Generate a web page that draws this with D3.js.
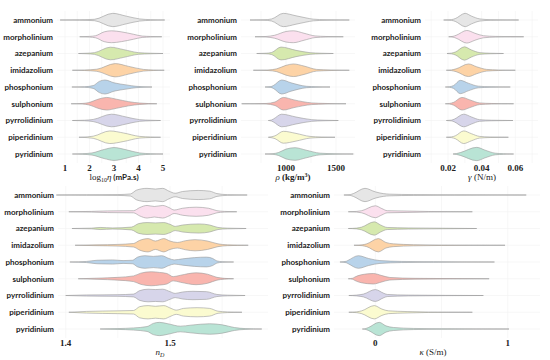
<!DOCTYPE html>
<html><head><meta charset="utf-8">
<script src="https://cdn.jsdelivr.net/npm/d3@7"></script>
<style>body{margin:0;background:#fff}svg{display:block}</style>
</head><body><svg id="c" width="550" height="360"></svg>
<script>
const categories = ["ammonium","morpholinium","azepanium","imidazolium","phosphonium","sulphonium","pyrrolidinium","piperidinium","pyridinium"];
const colors = ["#e6e6e6","#fbe0ee","#d6e9ae","#fdd3a6","#b8d3ea","#f9b5ae","#d7d5ea","#fbfbd0","#b9e4d5"];

// density profiles: [value, relative half-width]
const etaProfiles = [
 [[0.8,0],[1.6,0.03],[2.2,0.1],[2.95,0.95],[3.5,0.55],[4.05,0.15],[4.5,0.05],[5.07,0]],
 [[1.6,0],[2.0,0.05],[2.25,0.15],[2.6,0.7],[2.9,0.85],[3.3,0.7],[3.8,0.35],[4.15,0.1],[4.5,0.04],[4.95,0]],
 [[1.55,0],[1.9,0.04],[2.2,0.12],[2.85,0.9],[3.4,0.55],[4.0,0.12],[4.5,0.04],[5.0,0]],
 [[1.3,0],[1.8,0.04],[2.3,0.15],[3.05,0.95],[3.6,0.55],[4.2,0.12],[4.6,0.04],[5.05,0]],
 [[1.28,0],[1.8,0.04],[2.15,0.2],[2.4,0.8],[2.63,1.0],[3.0,0.6],[3.5,0.3],[3.9,0.1],[4.55,0]],
 [[1.25,0],[1.7,0.04],[1.95,0.15],[2.4,0.7],[2.7,0.9],[3.1,0.65],[3.6,0.3],[4.05,0.1],[4.75,0]],
 [[1.3,0],[1.8,0.04],[2.15,0.15],[2.9,0.9],[3.5,0.5],[4.05,0.12],[4.5,0.04],[4.9,0]],
 [[1.57,0],[1.9,0.05],[2.15,0.15],[2.83,0.9],[3.4,0.6],[4.05,0.12],[4.5,0.04],[4.9,0]],
 [[1.3,0],[1.7,0.04],[2.1,0.15],[2.6,0.65],[3.0,0.92],[3.5,0.6],[4.05,0.15],[4.5,0.04],[5.0,0]]
];
const rhoProfiles = [
 [[640,0],[780,0.03],[857,0.15],[973,0.95],[1100,0.6],[1200,0.3],[1273,0.12],[1400,0.04],[1633,0]],
 [[690,0],[800,0.04],[883,0.2],[1000,0.75],[1073,0.85],[1180,0.5],[1290,0.12],[1400,0.04],[1573,0]],
 [[707,0],[800,0.04],[857,0.15],[950,0.92],[1100,0.45],[1240,0.12],[1350,0.04],[1473,0]],
 [[673,0],[820,0.04],[907,0.2],[1000,0.7],[1073,0.9],[1180,0.6],[1307,0.12],[1450,0.04],[1633,0]],
 [[790,0],[850,0.06],[873,0.2],[957,1.0],[1050,0.6],[1207,0.1],[1300,0.04],[1440,0]],
 [[557,0],[800,0.04],[890,0.25],[973,0.9],[1080,0.55],[1257,0.12],[1400,0.04],[1600,0]],
 [[823,0],[855,0.08],[873,0.2],[957,0.9],[1100,0.5],[1257,0.12],[1380,0.04],[1523,0]],
 [[823,0],[860,0.08],[890,0.2],[973,0.85],[1100,0.55],[1240,0.12],[1350,0.04],[1490,0]],
 [[790,0],[870,0.05],[923,0.2],[1000,0.7],[1090,0.9],[1200,0.55],[1340,0.12],[1480,0.04],[1673,0]]
];
const gammaProfiles = [
 [[0.0174,0],[0.022,0.05],[0.0243,0.2],[0.0302,0.95],[0.034,0.55],[0.039,0.15],[0.045,0.05],[0.062,0]],
 [[0.0204,0],[0.023,0.06],[0.0248,0.2],[0.0312,0.9],[0.036,0.5],[0.041,0.15],[0.048,0.05],[0.065,0]],
 [[0.0194,0],[0.022,0.05],[0.0243,0.2],[0.0297,0.95],[0.034,0.5],[0.039,0.12],[0.045,0.04],[0.053,0]],
 [[0.019,0],[0.022,0.05],[0.0248,0.2],[0.0322,0.9],[0.037,0.5],[0.043,0.12],[0.05,0.04],[0.06,0]],
 [[0.0184,0],[0.021,0.05],[0.0233,0.2],[0.0273,0.95],[0.032,0.55],[0.038,0.12],[0.045,0.04],[0.057,0]],
 [[0.0184,0],[0.021,0.05],[0.0233,0.2],[0.0283,0.9],[0.033,0.55],[0.0388,0.12],[0.046,0.04],[0.059,0]],
 [[0.019,0],[0.022,0.05],[0.0238,0.2],[0.0293,0.9],[0.034,0.5],[0.0388,0.12],[0.046,0.04],[0.0586,0]],
 [[0.019,0],[0.022,0.05],[0.0243,0.2],[0.0293,0.9],[0.034,0.5],[0.0388,0.12],[0.045,0.04],[0.0559,0]],
 [[0.023,0],[0.025,0.06],[0.0273,0.2],[0.0371,0.95],[0.042,0.55],[0.048,0.12],[0.053,0.04],[0.059,0]]
];
const ndProfiles = [
 [[1.391,0],[1.42,0.03],[1.45,0.06],[1.462,0.15],[1.468,0.7],[1.478,0.95],[1.486,0.85],[1.493,0.95],[1.499,0.55],[1.505,0.25],[1.512,0.5],[1.527,0.65],[1.538,0.55],[1.545,0.2],[1.555,0.05],[1.574,0]],
 [[1.403,0],[1.425,0.05],[1.44,0.12],[1.465,0.15],[1.471,0.6],[1.478,0.9],[1.485,0.75],[1.493,0.9],[1.499,0.6],[1.504,0.25],[1.512,0.5],[1.525,0.65],[1.537,0.5],[1.545,0.15],[1.552,0.05],[1.564,0]],
 [[1.406,0],[1.425,0.05],[1.433,0.15],[1.445,0.08],[1.463,0.2],[1.47,0.7],[1.478,0.85],[1.486,0.8],[1.494,0.85],[1.5,0.6],[1.505,0.3],[1.512,0.5],[1.528,0.65],[1.538,0.5],[1.546,0.15],[1.555,0.05],[1.573,0]],
 [[1.409,0],[1.43,0.06],[1.45,0.12],[1.465,0.25],[1.471,0.7],[1.479,0.95],[1.486,0.6],[1.494,0.95],[1.5,0.6],[1.507,0.4],[1.515,0.65],[1.524,0.8],[1.536,0.6],[1.546,0.2],[1.555,0.06],[1.575,0]],
 [[1.404,0],[1.42,0.08],[1.43,0.25],[1.445,0.3],[1.455,0.2],[1.464,0.25],[1.469,0.7],[1.476,0.9],[1.484,0.8],[1.492,0.9],[1.499,0.5],[1.504,0.3],[1.512,0.45],[1.535,0.7],[1.541,0.5],[1.545,0.15],[1.55,0.05],[1.561,0]],
 [[1.412,0],[1.43,0.08],[1.45,0.2],[1.465,0.4],[1.472,0.8],[1.482,1.0],[1.49,0.9],[1.497,0.75],[1.503,0.3],[1.51,0.5],[1.525,0.85],[1.536,0.65],[1.545,0.2],[1.552,0.06],[1.561,0]],
 [[1.4,0],[1.42,0.08],[1.45,0.12],[1.465,0.2],[1.471,0.7],[1.479,0.9],[1.486,0.85],[1.493,0.9],[1.5,0.55],[1.505,0.3],[1.512,0.5],[1.522,0.6],[1.535,0.55],[1.545,0.15],[1.555,0.05],[1.572,0]],
 [[1.403,0],[1.42,0.12],[1.45,0.2],[1.465,0.25],[1.471,0.8],[1.479,0.95],[1.486,0.85],[1.494,0.95],[1.501,0.55],[1.506,0.3],[1.513,0.55],[1.526,0.65],[1.538,0.55],[1.546,0.15],[1.555,0.05],[1.569,0]],
 [[1.433,0],[1.45,0.06],[1.465,0.15],[1.478,0.35],[1.484,0.8],[1.49,0.95],[1.498,0.75],[1.51,0.4],[1.52,0.55],[1.538,0.75],[1.55,0.6],[1.562,0.2],[1.572,0.06],[1.588,0]]
];
const kappaProfiles = [
 [[-0.237,0],[-0.19,0.06],[-0.166,0.2],[-0.078,0.95],[0.0,0.45],[0.06,0.2],[0.11,0.12],[0.29,0.06],[0.6,0.03],[1.14,0]],
 [[-0.204,0],[-0.14,0.05],[-0.103,0.15],[0.0,0.85],[0.05,0.45],[0.09,0.15],[0.24,0.1],[0.4,0.04],[0.733,0]],
 [[-0.204,0],[-0.14,0.06],[-0.103,0.2],[-0.008,0.95],[0.04,0.5],[0.09,0.15],[0.25,0.08],[0.51,0.04],[0.766,0]],
 [[-0.161,0],[-0.1,0.06],[-0.065,0.2],[0.023,0.95],[0.08,0.4],[0.136,0.2],[0.29,0.08],[0.5,0.03],[0.98,0]],
 [[-0.267,0],[-0.22,0.1],[-0.204,0.25],[-0.128,0.9],[-0.05,0.5],[0.035,0.2],[0.2,0.08],[0.44,0.04],[0.9,0]],
 [[-0.204,0],[-0.17,0.08],[-0.154,0.25],[-0.06,0.7],[-0.015,0.75],[0.05,0.45],[0.11,0.18],[0.3,0.06],[0.86,0]],
 [[-0.2,0],[-0.14,0.06],[-0.09,0.2],[0.0,0.85],[0.06,0.35],[0.09,0.15],[0.25,0.06],[0.816,0]],
 [[-0.2,0],[-0.14,0.06],[-0.103,0.2],[-0.008,0.95],[0.05,0.45],[0.1,0.2],[0.24,0.1],[0.4,0.03],[0.733,0]],
 [[-0.098,0],[-0.07,0.08],[-0.053,0.2],[0.03,0.95],[0.08,0.45],[0.136,0.22],[0.29,0.08],[0.5,0.03],[1.01,0]]
];
const etaTicks = [1,2,3,4,5];
const rhoTicks = [1000,1500];
const gammaTicks = [0.02,0.04,0.06];
const ndTicks = [1.4,1.5];
const kappaTicks = [0,1];

const svg = d3.select("#c");
const panels = [
 {prof:etaProfiles, ticks:etaTicks, fmt:d=>d, dom:[1,5], rng:[65,163], grid:[57,170], labelX:53, y0:20, tickY:171, titleY:180, title:"eta"},
 {prof:rhoProfiles, ticks:rhoTicks, fmt:d=>d, dom:[1000,1500], rng:[286,336], grid:[241,355], labelX:237, y0:20, tickY:171, titleY:180, title:"rho"},
 {prof:gammaProfiles, ticks:gammaTicks, fmt:d=>d.toFixed(2), dom:[0.02,0.06], rng:[448,515.3], grid:[425,538], labelX:421, y0:20, tickY:171, titleY:180, title:"gamma"},
 {prof:ndProfiles, ticks:ndTicks, fmt:d=>d.toFixed(1), dom:[1.4,1.5], rng:[65.7,170], grid:[58,268], labelX:54, y0:195, tickY:346, titleY:355, title:"nd"},
 {prof:kappaProfiles, ticks:kappaTicks, fmt:d=>d, dom:[0,1], rng:[375.3,507.7], grid:[334,540], labelX:330, y0:195, tickY:346, titleY:355, title:"kappa"}
];
const step = 16.75, maxHalf = 7;

panels.forEach(p => {
  const x = d3.scaleLinear().domain(p.dom).range(p.rng);
  const y = d3.scalePoint().domain(categories).range([p.y0, p.y0 + step*8]);
  const g = svg.append("g");
  const gx0 = x.invert(p.grid[0]), gx1 = x.invert(p.grid[1]);
  const tstep = p.ticks.length > 1 ? (p.ticks[1]-p.ticks[0]) : 1;
  const minor = [];
  for (let v = p.ticks[0] - 4*tstep; v <= gx1; v += tstep/2) if (v >= gx0) minor.push(v);
  g.selectAll(".vg").data(minor).join("line")
    .attr("x1", d=>x(d)).attr("x2", d=>x(d))
    .attr("y1", p.y0 - 9).attr("y2", p.y0 + step*8 + 9)
    .attr("stroke", "#f1f1f1").attr("stroke-width", 0.6);
  g.selectAll(".hg").data(categories).join("line")
    .attr("x1", p.grid[0]).attr("x2", p.grid[1])
    .attr("y1", d=>y(d)).attr("y2", d=>y(d))
    .attr("stroke", "#f1f1f1").attr("stroke-width", 0.6);
  categories.forEach((c, i) => {
    const cy = y(c);
    const area = d3.area().curve(d3.curveMonotoneX)
      .x(d => x(d[0])).y0(d => cy - d[1]*maxHalf).y1(d => cy + d[1]*maxHalf);
    g.append("path").datum(p.prof[i]).attr("d", area)
      .attr("fill", colors[i]).attr("stroke", "#9a9a9a").attr("stroke-width", 0.6)
      .attr("stroke-linejoin", "round");
  });
  g.selectAll(".lab").data(categories).join("text")
    .attr("x", p.labelX).attr("y", d=>y(d)).attr("dy", "0.35em")
    .attr("text-anchor", "end").attr("font-family", "Lato, 'Open Sans', sans-serif")
    .attr("font-weight", "bold").attr("font-size", 8).attr("fill", "#222").text(d=>d);
  g.selectAll(".tk").data(p.ticks).join("text")
    .attr("x", d=>x(d)).attr("y", p.tickY).attr("text-anchor", "middle")
    .attr("font-family", "'Liberation Serif', serif").attr("font-weight", "bold")
    .attr("font-size", 9).attr("fill", "#222").text(p.fmt);
  const t = g.append("text").attr("y", p.titleY).attr("text-anchor", "middle")
    .attr("font-family", "'Liberation Serif', serif").attr("font-size", 9).attr("fill", "#222");
  if (p.title === "eta") {
    t.attr("x", 114);
    t.append("tspan").text("log");
    t.append("tspan").attr("font-size", 6).attr("dy", 2).text("10");
    t.append("tspan").attr("font-style", "italic").attr("dy", -2).text("η");
    t.append("tspan").attr("font-family", "Lato, sans-serif").attr("font-weight", "bold").attr("font-size", 8).text(" (mPa.s)");
  } else if (p.title === "rho") {
    t.attr("x", 293);
    t.append("tspan").attr("font-style", "italic").text("ρ");
    t.append("tspan").attr("font-weight", "bold").text(" (kg/m");
    t.append("tspan").attr("font-size", 6).attr("dy", -3).attr("font-weight", "bold").text("3");
    t.append("tspan").attr("dy", 3).attr("font-weight", "bold").text(")");
  } else if (p.title === "gamma") {
    t.attr("x", 482);
    t.append("tspan").attr("font-style", "italic").text("γ");
    t.append("tspan").text(" (N/m)");
  } else if (p.title === "nd") {
    t.attr("x", 160);
    t.append("tspan").attr("font-style", "italic").text("n");
    t.append("tspan").attr("font-style", "italic").attr("font-size", 6).attr("dy", 2).text("D");
  } else {
    t.attr("x", 433);
    t.append("tspan").attr("font-style", "italic").text("κ");
    t.append("tspan").text(" (S/m)");
  }
});
</script></body></html>
